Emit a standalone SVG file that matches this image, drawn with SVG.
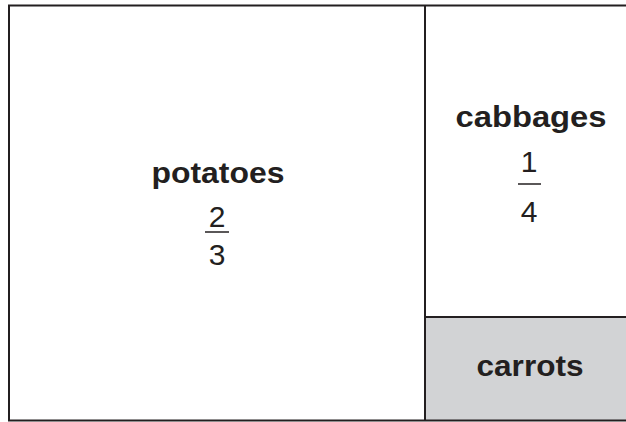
<svg xmlns="http://www.w3.org/2000/svg" width="626" height="422" viewBox="0 0 626 422">
<style>
.line{fill:none;stroke:#231f20;stroke-width:2}
.lbl{font-family:"Liberation Sans",Arial,sans-serif;font-weight:bold;font-size:29px;fill:#231f20;text-anchor:middle}
.num{font-family:"Liberation Sans",Arial,sans-serif;font-size:30px;fill:#231f20;text-anchor:middle}
.bar{stroke:#231f20;stroke-width:1.5}
</style>
<rect width="626" height="422" fill="#ffffff"/>
<g id="carrots">
<rect x="425" y="317" width="210" height="103.5" fill="#d2d3d5"/>
<text class="lbl" x="530" y="376" textLength="107" lengthAdjust="spacingAndGlyphs">carrots</text>
</g>
<g id="potatoes">
<text class="lbl" x="218" y="183" textLength="133" lengthAdjust="spacingAndGlyphs">potatoes</text>
<text class="num" x="217" y="227">2</text>
<line class="bar" x1="205" y1="232" x2="229" y2="232"/>
<text class="num" x="217" y="265">3</text>
</g>
<g id="cabbages">
<text class="lbl" x="531" y="127" textLength="151" lengthAdjust="spacingAndGlyphs">cabbages</text>
<text class="num" x="529" y="172">1</text>
<line class="bar" x1="518" y1="184" x2="541" y2="184"/>
<text class="num" x="529" y="222">4</text>
</g>
<g id="connectors">
<polyline class="line" points="640,5.5 9,5.5 9,420.5 640,420.5"/>
<line class="line" x1="425" y1="5.5" x2="425" y2="420.5"/>
<line class="line" x1="425" y1="317" x2="640" y2="317"/>
</g>
</svg>
